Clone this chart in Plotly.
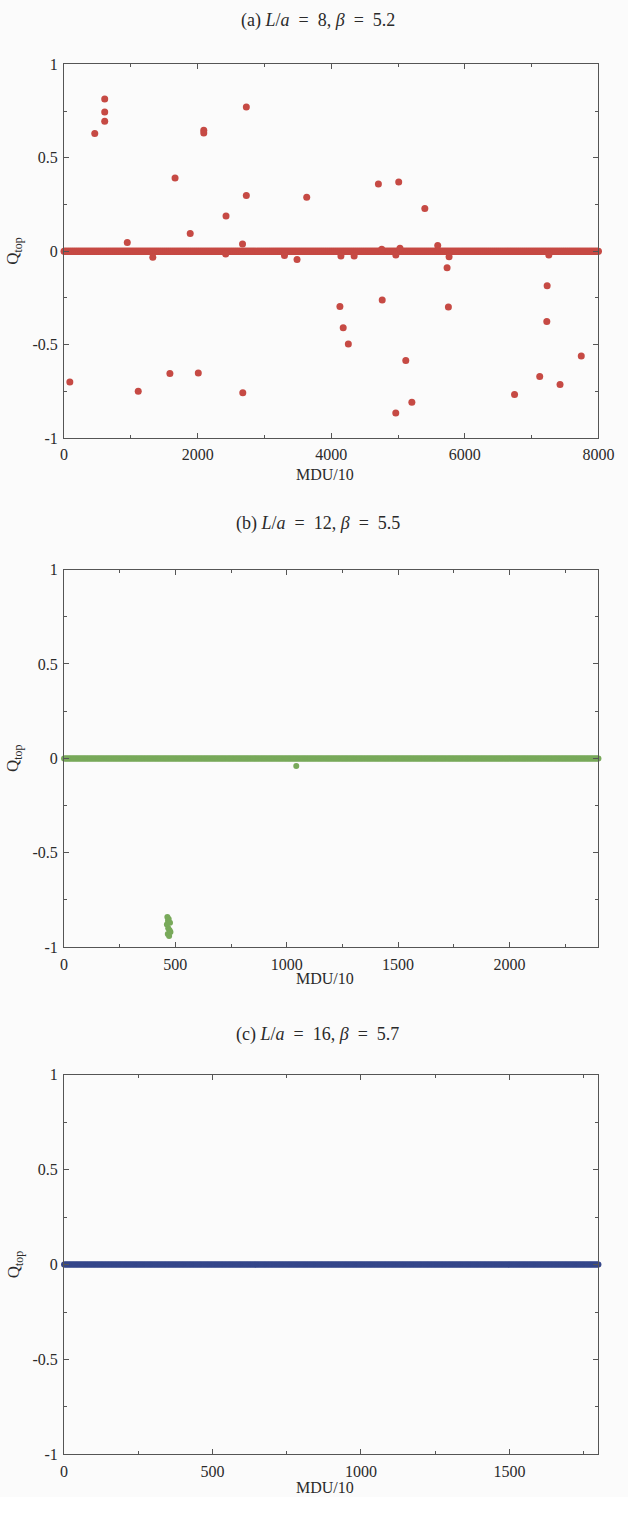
import numpy as np
import plotly.graph_objects as go

# ---- data -------------------------------------------------------------
# Topological charge histories; Q_top is 0 at every measurement except the
# events listed below.

# (a) L/a = 8, beta = 5.2  -- measurement span and spacing in MDU/10
A_T_END, A_T_STEP = 8000, 10
a_event_t = [87, 460, 609, 609, 609, 947, 1111, 1329, 1585, 1662, 1889, 2010,
             2092, 2092, 2420, 2425, 2672, 2676, 2729, 2729, 3300, 3488, 3633,
             4130, 4145, 4179, 4256, 4343, 4706, 4756, 4763, 4966, 4967, 5010,
             5029, 5116, 5207, 5401, 5594, 5734, 5754, 5764, 6744, 7121, 7227,
             7232, 7257, 7425, 7743]
a_event_q = [-0.70, 0.63, 0.815, 0.745, 0.695, 0.046, -0.75, -0.032, -0.654,
             0.392, 0.095, -0.652, 0.647, 0.632, -0.015, 0.189, 0.039, -0.758,
             0.772, 0.298, -0.023, -0.044, 0.289, -0.296, -0.026, -0.409,
             -0.496, -0.026, 0.36, 0.01, -0.261, -0.866, -0.02, 0.37, 0.016,
             -0.585, -0.808, 0.228, 0.03, -0.088, -0.298, -0.03, -0.767,
             -0.670, -0.376, -0.185, -0.02, -0.714, -0.561]

# (b) L/a = 12, beta = 5.5
B_T_END, B_T_STEP = 2400, 4
b_event_t = [462, 464, 466, 467, 468, 470, 472, 474, 476, 478, 1043]
b_event_q = [-0.88, -0.84, -0.93, -0.86, -0.90, -0.85, -0.94, -0.91, -0.87,
             -0.92, -0.04]

# (c) L/a = 16, beta = 5.7
C_T_END, C_T_STEP = 1800, 3
c_event_t = []
c_event_q = []

EN = "\u2002"
panel_titles = [
    f"(a) <i>L</i>/<i>a</i>{EN}={EN}8, <i>β</i>{EN}={EN}5.2",
    f"(b) <i>L</i>/<i>a</i>{EN}={EN}12, <i>β</i>{EN}={EN}5.5",
    f"(c) <i>L</i>/<i>a</i>{EN}={EN}16, <i>β</i>{EN}={EN}5.7",
]
x_label = "MDU/10"
y_label = "Q<sub>top</sub>"
y_ticks = [-1, -0.5, 0, 0.5, 1]
y_ticktext = ["-1", "-0.5", "0", "0.5", "1"]


def history(t_end, t_step, ev_t, ev_q):
    t = np.arange(0, t_end + 1, t_step).astype(float)
    q = np.zeros_like(t)
    return (np.concatenate([t, np.asarray(ev_t, float)]),
            np.concatenate([q, np.asarray(ev_q, float)]))


# ---- layout geometry ---------------------------------------------------
# Page positions in px; the page body keeps an 8 px margin round the figure.
PAGE_W, PAGE_H = 644, 1513
BODY = 8
W, H = PAGE_W - 2 * BODY, PAGE_H - 2 * BODY
X0, X1 = 70, 622
panels = [
    dict(top=65, bot=443, title_y=21, xlab_y=480, t_end=A_T_END,
         step=A_T_STEP, ev=(a_event_t, a_event_q), color="#c64a44",
         size=7, dtick=2000, minor=1000),
    dict(top=576, bot=958, title_y=529, xlab_y=990, t_end=B_T_END,
         step=B_T_STEP, ev=(b_event_t, b_event_q), color="#78a95a",
         size=6, dtick=500, minor=250),
    dict(top=1087, bot=1471, title_y=1046, xlab_y=1504, t_end=C_T_END,
         step=C_T_STEP, ev=(c_event_t, c_event_q), color="#34468a",
         size=6, dtick=500, minor=250),
]

FONT = "Liberation Serif, Times New Roman, Times, serif"
AX_COLOR = "#555555"
TXT = "#2a2a2a"


def px(x):
    return (x - BODY) / W


def py(y):
    return 1 - (y - BODY) / H


fig = go.Figure()
annotations = []

for i, p in enumerate(panels):
    n = "" if i == 0 else str(i + 1)
    t, q = history(p["t_end"], p["step"], *p["ev"])
    fig.add_trace(go.Scatter(
        x=t, y=q, mode="markers", xaxis="x" + n, yaxis="y" + n,
        marker=dict(color=p["color"], size=p["size"], line=dict(width=0)),
        cliponaxis=False, showlegend=False, hoverinfo="skip"))

    common = dict(showline=True, linecolor=AX_COLOR, linewidth=1.2,
                  mirror="allticks", ticks="inside", ticklen=5,
                  tickcolor=AX_COLOR, tickwidth=1, showgrid=False,
                  zeroline=False, ticklabelstandoff=2,
                  ticklabeloverflow="allow",
                  tickfont=dict(family=FONT, size=16, color=TXT))
    fig.update_layout(**{
        "xaxis" + n: dict(domain=[px(X0), px(X1)], range=[0, p["t_end"]],
                          anchor="y" + n, dtick=p["dtick"], tick0=0,
                          minor=dict(ticks="inside", dtick=p["minor"],
                                     ticklen=3, tickcolor=AX_COLOR,
                                     showgrid=False),
                          **common),
        "yaxis" + n: dict(domain=[py(p["bot"]), py(p["top"])],
                          range=[-1, 1], anchor="x" + n,
                          tickvals=y_ticks, ticktext=y_ticktext,
                          minor=dict(ticks="inside", dtick=0.25, ticklen=3,
                                     tickcolor=AX_COLOR, showgrid=False),
                          **common),
    })

    annotations.append(dict(
        text=panel_titles[i], x=px(332), y=py(p["title_y"]),
        xref="paper", yref="paper", showarrow=False, xanchor="center",
        yanchor="middle", font=dict(family=FONT, size=18, color=TXT)))
    annotations.append(dict(
        text=x_label, x=px(340), y=py(p["xlab_y"]),
        xref="paper", yref="paper", showarrow=False, xanchor="center",
        yanchor="middle", font=dict(family=FONT, size=16, color=TXT)))
    annotations.append(dict(
        text=y_label, x=px(19), y=py((p["top"] + p["bot"]) / 2),
        xref="paper", yref="paper", showarrow=False, xanchor="center",
        yanchor="middle", textangle=-90,
        font=dict(family=FONT, size=17, color=TXT)))

fig.update_layout(
    width=W, height=H, margin=dict(l=0, r=0, t=0, b=0),
    paper_bgcolor="#fbfbfb", plot_bgcolor="#fbfbfb",
    annotations=annotations)

fig.write_html("out.html")
